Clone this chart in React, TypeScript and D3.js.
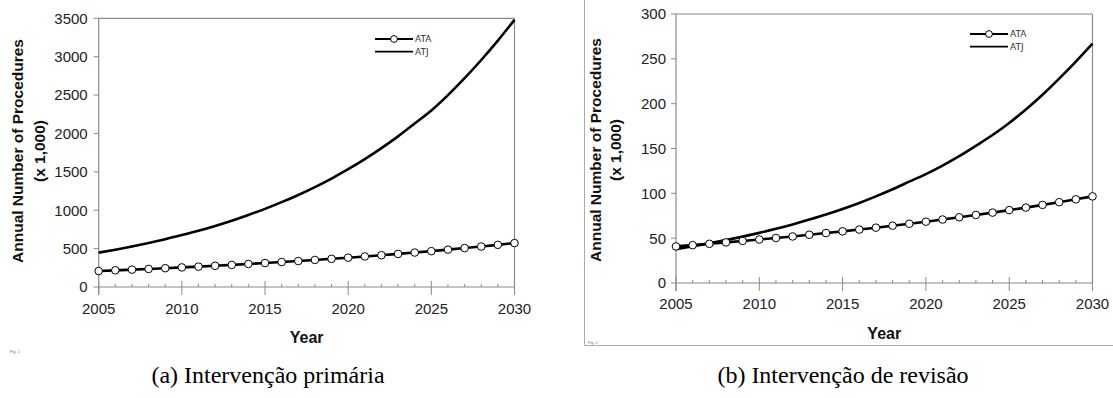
import React from "react";
import * as d3 from "d3";

const years = [2005, 2006, 2007, 2008, 2009, 2010, 2011, 2012, 2013, 2014, 2015, 2016, 2017, 2018, 2019, 2020, 2021, 2022, 2023, 2024, 2025, 2026, 2027, 2028, 2029, 2030];

const primaryATA = [208, 217, 226, 235, 245, 255, 265, 276, 288, 300, 312, 325, 338, 352, 367, 382, 398, 414, 431, 449, 467, 487, 507, 527, 549, 572];
const primaryATJ = [448, 486, 528, 573, 622, 676, 733, 796, 864, 938, 1018, 1105, 1199, 1302, 1413, 1534, 1665, 1808, 1962, 2130, 2300, 2500, 2720, 2957, 3210, 3480];

const revisionATA = [40.8, 42.2, 43.7, 45.3, 46.9, 48.5, 50.2, 51.9, 53.8, 55.7, 57.6, 59.6, 61.7, 63.9, 66.1, 68.4, 70.8, 73.3, 75.9, 78.5, 81.3, 84.1, 87.1, 90.1, 93.3, 96.6];
const revisionATJ = [37.8, 40.9, 44.2, 47.8, 51.7, 55.9, 60.4, 65.3, 70.7, 76.4, 82.6, 89.3, 96.6, 104.5, 113.0, 121.5, 131.0, 141.5, 153.0, 165.0, 178.5, 193.5, 210.0, 228.0, 247.0, 267.0];

const primaryYTicks = [0, 500, 1000, 1500, 2000, 2500, 3000, 3500];
const revisionYTicks = [0, 50, 100, 150, 200, 250, 300];
const xMajorTicks = [2005, 2010, 2015, 2020, 2025, 2030];

const seriesNames = ["ATA", "ATJ"];
const yLabelLines = ["Annual Number of Procedures", "(x 1,000)"];
const xLabel = "Year";
const captions = ["(a) Intervenção primária", "(b) Intervenção de revisão"];

const AXIS = "#8a8a8a";
const SANS = "'Liberation Sans', Arial, sans-serif";

type PanelProps = {
  x0: number; x1: number; yTop: number; yBottom: number;
  yMax: number; yTicks: number[];
  ata: number[]; atj: number[];
  yLabelX: [number, number]; yLabelY: number;
  tickLabelGap: number; xLabelBaseline: number; yearBaseline: number;
  legendX: number; legendY: number;
};

function Panel(p: PanelProps) {
  const x = d3.scaleLinear().domain([2005, 2030]).range([p.x0, p.x1]);
  const y = d3.scaleLinear().domain([0, p.yMax]).range([p.yBottom, p.yTop]);
  const line = d3.line<number>().x((_, i) => x(years[i])).y((d) => y(d)).curve(d3.curveMonotoneX);
  const lineLin = d3.line<number>().x((_, i) => x(years[i])).y((d) => y(d));
  const yAxisX = x(2005);
  const y0 = y(0);
  return (
    <g>
      <line x1={yAxisX} x2={x(2030)} y1={y(p.yMax)} y2={y(p.yMax)} stroke={AXIS} strokeWidth={1.2} />
      <line x1={x(2030)} x2={x(2030)} y1={y(p.yMax)} y2={y0} stroke={AXIS} strokeWidth={1.2} />
      <line x1={yAxisX} x2={yAxisX} y1={y(p.yMax)} y2={y0 + 8} stroke={AXIS} strokeWidth={1.2} />
      {p.yTicks.map((t) => (
        <g key={t}>
          <line x1={yAxisX - 5} x2={yAxisX} y1={y(t)} y2={y(t)} stroke={AXIS} strokeWidth={1} />
          <text x={yAxisX - p.tickLabelGap} y={y(t)} dy="0.36em" textAnchor="end" fontFamily={SANS} fontSize={15} fill="#222">{t}</text>
        </g>
      ))}
      <line x1={yAxisX} x2={x(2030)} y1={y0} y2={y0} stroke={AXIS} strokeWidth={1.2} />
      {years.map((yr) => {
        const major = xMajorTicks.includes(yr);
        return (
          <line key={yr} x1={x(yr)} x2={x(yr)} y1={major ? y0 - 6 : y0 - 3} y2={major ? y0 + 8 : y0} stroke={AXIS} strokeWidth={1} />
        );
      })}
      {xMajorTicks.map((t) => (
        <text key={t} x={x(t)} y={p.xLabelBaseline} textAnchor="middle" fontFamily={SANS} fontSize={15} fill="#222">{t}</text>
      ))}
      <text x={(p.x0 + p.x1) / 2} y={p.yearBaseline} textAnchor="middle" fontFamily={SANS} fontSize={16} fontWeight="bold" fill="#111">{xLabel}</text>
      {yLabelLines.map((s, i) => (
        <text key={s} transform={`translate(${p.yLabelX[i]},${p.yLabelY}) rotate(-90)`} textAnchor="middle" dominantBaseline="central" fontFamily={SANS} fontSize={15.5} fontWeight="bold" fill="#111">{s}</text>
      ))}
      <path d={line(p.atj) || ""} fill="none" stroke="#000" strokeWidth={2.6} />
      <path d={lineLin(p.ata) || ""} fill="none" stroke="#000" strokeWidth={2.6} />
      {p.ata.map((v, i) => (
        <circle key={i} cx={x(years[i])} cy={y(v)} r={3.8} fill="#fff" stroke="#000" strokeWidth={1} />
      ))}
      {seriesNames.map((n, i) => {
        const ly = p.legendY + i * 12.7;
        return (
          <g key={n}>
            <line x1={p.legendX} x2={p.legendX + 38} y1={ly} y2={ly} stroke="#000" strokeWidth={1.8} />
            {i === 0 && <circle cx={p.legendX + 19} cy={ly} r={3.4} fill="#fff" stroke="#000" strokeWidth={1} />}
            <text x={p.legendX + 40} y={ly} dy="0.35em" fontFamily="'DejaVu Sans', Tahoma, sans-serif" fontSize={9} fill="#333">{n}</text>
          </g>
        );
      })}
    </g>
  );
}

export default function App() {
  return (
    <svg width={1113} height={398} style={{ position: "absolute", left: 0, top: 0, background: "#fff" }}>
      <rect x={0} y={0} width={1113} height={398} fill="#fff" />
      <line x1={584.5} x2={584.5} y1={0} y2={345.5} stroke="#aaa" strokeWidth={1} />
      <line x1={584.5} x2={1113} y1={345.5} y2={345.5} stroke="#aaa" strokeWidth={1} />
      <Panel
        x0={98.7} x1={514.5} yTop={18.3} yBottom={287}
        yMax={3500} yTicks={primaryYTicks}
        ata={primaryATA} atj={primaryATJ}
        yLabelX={[17, 39]} yLabelY={151}
        tickLabelGap={11} xLabelBaseline={314} yearBaseline={343}
        legendX={375} legendY={39}
      />
      <Panel
        x0={676} x1={1092.5} yTop={14} yBottom={283}
        yMax={300} yTicks={revisionYTicks}
        ata={revisionATA} atj={revisionATJ}
        yLabelX={[595, 615]} yLabelY={150}
        tickLabelGap={10} xLabelBaseline={309} yearBaseline={339}
        legendX={970} legendY={34}
      />
      <text x={10} y={353} fontFamily={SANS} fontSize={4} fill="#777">Fig. 1</text>
      <text x={588} y={344} fontFamily={SANS} fontSize={4} fill="#777">Fig. 2</text>
      <text x={268} y={383} textAnchor="middle" fontFamily="'Liberation Serif', 'DejaVu Serif', serif" fontSize={24} fill="#000">{captions[0]}</text>
      <text x={843} y={383} textAnchor="middle" fontFamily="'Liberation Serif', 'DejaVu Serif', serif" fontSize={24} fill="#000">{captions[1]}</text>
    </svg>
  );
}
